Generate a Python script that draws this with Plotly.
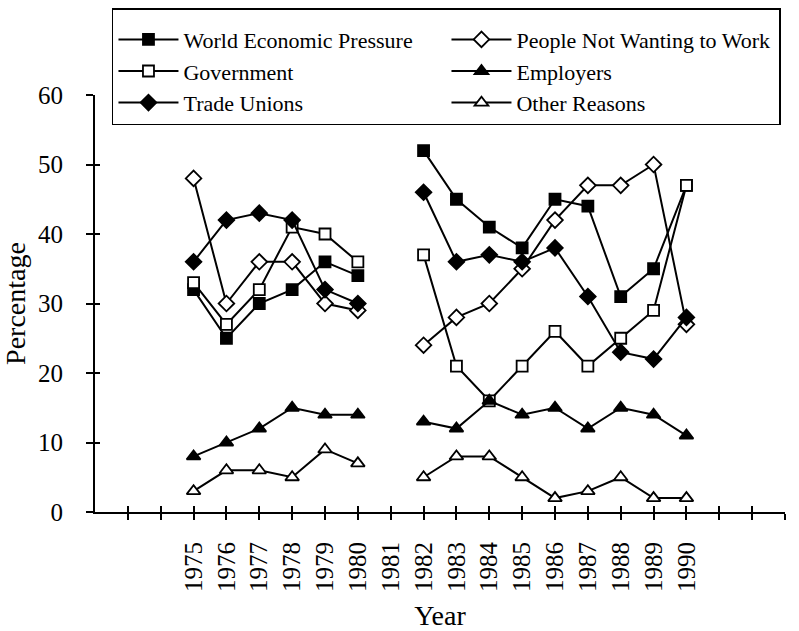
import plotly.graph_objects as go

years = [1975, 1976, 1977, 1978, 1979, 1980, 1981, 1982, 1983, 1984, 1985, 1986, 1987, 1988, 1989, 1990]
world_economic = [32, 25, 30, 32, 36, 34, None, 52, 45, 41, 38, 45, 44, 31, 35, 47]
people_not_wanting = [48, 30, 36, 36, 30, 29, None, 24, 28, 30, 35, 42, 47, 47, 50, 27]
government = [33, 27, 32, 41, 40, 36, None, 37, 21, 16, 21, 26, 21, 25, 29, 47]
employers = [8, 10, 12, 15, 14, 14, None, 13, 12, 16, 14, 15, 12, 15, 14, 11]
trade_unions = [36, 42, 43, 42, 32, 30, None, 46, 36, 37, 36, 38, 31, 23, 22, 28]
other_reasons = [3, 6, 6, 5, 9, 7, None, 5, 8, 8, 5, 2, 3, 5, 2, 2]

tick_years = list(range(1973, 1994))
tick_labels = [str(y) if 1975 <= y <= 1990 else "" for y in tick_years]
y_ticks = [0, 10, 20, 30, 40, 50, 60]

FONT = "Liberation Serif"

series = [
    ("World Economic Pressure", world_economic, "square", "black", 11),
    ("People Not Wanting to Work", people_not_wanting, "diamond", "white", 12),
    ("Government", government, "square", "white", 11),
    ("Employers", employers, "triangle-up", "black", 12),
    ("Trade Unions", trade_unions, "diamond", "black", 12),
    ("Other Reasons", other_reasons, "triangle-up", "white", 12),
]

fig = go.Figure()
for name, vals, sym, fill, size in series:
    fig.add_trace(go.Scatter(
        x=years, y=vals, name=name, mode="lines+markers",
        connectgaps=False,
        line=dict(color="black", width=2),
        marker=dict(symbol=sym, color=fill, size=size,
                    line=dict(color="black", width=1.8)),
    ))

# dummy trace to host the overlay axes (crossing tick marks)
fig.add_trace(go.Scatter(x=[None], y=[None], xaxis="x2", yaxis="y2",
                         showlegend=False, hoverinfo="skip"))

fig.update_layout(
    width=799, height=631,
    margin=dict(l=95, r=14, t=95, b=119, autoexpand=False),
    paper_bgcolor="white", plot_bgcolor="white",
    font=dict(family=FONT, color="black", size=20),
    showlegend=True,
    legend=dict(
        x=0.0246, y=1.2086, xanchor="left", yanchor="top",
        orientation="h", entrywidth=258, entrywidthmode="pixels",
        bordercolor="black", borderwidth=1.5, bgcolor="white",
        font=dict(family=FONT, size=22, color="black"),
        itemwidth=60,
        title=dict(text=" ", side="top", font=dict(size=7)),
    ),
    xaxis=dict(
        range=[1972, 1993], tickmode="array", tickvals=tick_years, ticktext=tick_labels,
        tickangle=-90, ticks="outside", ticklen=6, tickwidth=1.5, tickcolor="black",
        showline=True, linecolor="black", linewidth=2, showgrid=False, zeroline=False,
        tickfont=dict(family=FONT, size=25), ticklabelstandoff=12, automargin=False,
        title=dict(text="Year", font=dict(family=FONT, size=28), standoff=20),
    ),
    yaxis=dict(
        range=[0, 60], tickmode="array", tickvals=y_ticks,
        ticks="outside", ticklen=7, tickwidth=1.5, tickcolor="black",
        showline=True, linecolor="black", linewidth=2, showgrid=False, zeroline=False,
        tickfont=dict(family=FONT, size=25), ticklabelstandoff=18, automargin=False,
        title=dict(text="Percentage", font=dict(family=FONT, size=28), standoff=14),
    ),
    xaxis2=dict(
        overlaying="x", range=[1972, 1993], tickmode="array", tickvals=tick_years,
        ticks="inside", ticklen=6, tickwidth=1.5, tickcolor="black",
        showticklabels=False, showgrid=False, zeroline=False, showline=False,
        side="bottom", anchor="y2", automargin=False,
    ),
    yaxis2=dict(
        overlaying="y", range=[0, 60], tickmode="array", tickvals=[10, 20, 30, 40, 50],
        ticks="inside", ticklen=5, tickwidth=1.5, tickcolor="black",
        showticklabels=False, showgrid=False, zeroline=False, showline=False,
        side="left", anchor="x2", automargin=False,
    ),
)

fig.write_html("out.html", config={"displayModeBar": False},
               post_script="document.body.style.margin='0';")
